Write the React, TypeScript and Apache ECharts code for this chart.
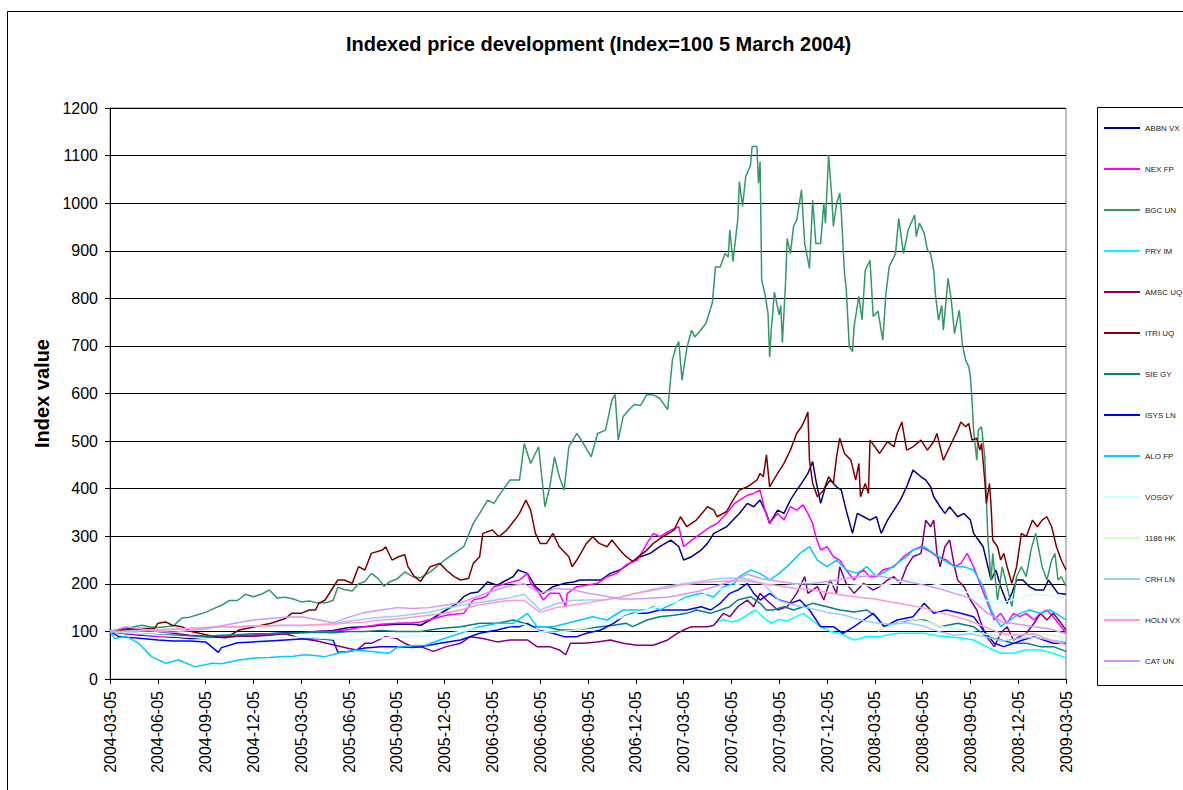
import React, { useEffect, useRef } from 'react';
import * as echarts from 'echarts';

// x values are months elapsed since 2004-03-05
const TICK_LABELS = [
  '2004-03-05', '2004-06-05', '2004-09-05', '2004-12-05',
  '2005-03-05', '2005-06-05', '2005-09-05', '2005-12-05',
  '2006-03-05', '2006-06-05', '2006-09-05', '2006-12-05',
  '2007-03-05', '2007-06-05', '2007-09-05', '2007-12-05',
  '2008-03-05', '2008-06-05', '2008-09-05', '2008-12-05',
  '2009-03-05',
];

const SERIES_NAMES = ['ABBN VX', 'NEX FP', 'BGC UN', 'PRY IM', 'AMSC UQ', 'ITRI UQ', 'SIE GY', 'ISYS LN', 'ALO FP', 'VOSGY', '1186 HK', 'CRH LN', 'HOLN VX', 'CAT UN'];
const SERIES_COLORS = ['#000080', '#FF00FF', '#339966', '#00FFFF', '#800080', '#800000', '#008080', '#0000FF', '#00CCFF', '#CCFFFF', '#CCFFCC', '#99CCFF', '#FF99CC', '#CC99FF'];

const ABBN_VX = [[0,100],[1,95],[2,92],[3,90],[4,88],[5,85],[6,85],[7,88],[8,90],[9,92],[10,95],[11,97],[12,98],[13,100],[14,102],[15,108],[16,110],[17,113],[18,115],[19,115],[19.5,113],[20.1,124],[21.1,145],[21.8,159],[22.2,173],[22.6,180],[23.1,183],[23.7,204],[24.3,197],[24.9,208],[25.3,215],[25.6,229],[26.2,222],[26.7,194],[27.2,180],[27.8,194],[28.5,201],[29.1,204],[29.5,208],[30.2,208],[30.8,208],[31.4,222],[32,229],[32.6,243],[33.3,257],[33.9,264],[34.5,278],[35.2,292],[35.7,278],[36,250],[36.5,257],[37.1,271],[37.5,285],[37.9,306],[38.3,313],[38.7,320],[39.1,334],[39.5,348],[40,369],[40.4,362],[40.8,376],[41.2,348],[41.4,327],[41.9,355],[42.3,348],[42.7,376],[43.1,397],[43.4,411],[43.8,432],[44.1,457],[44.3,418],[44.6,369],[44.9,404],[45.2,418],[45.6,404],[45.9,397],[46.2,355],[46.6,306],[46.9,348],[47.3,341],[47.7,334],[48.1,341],[48.4,306],[48.8,334],[49.2,355],[49.6,376],[50,404],[50.4,439],[50.9,425],[51.2,418],[51.5,404],[51.7,383],[52.1,362],[52.4,348],[52.7,362],[53.2,341],[53.6,348],[54,334],[54.2,306],[54.5,292],[54.8,278],[55.1,236],[55.3,208],[55.6,229],[55.9,194],[56.3,159],[56.6,180],[56.9,208],[57.3,208],[57.7,194],[58.1,187],[58.6,187],[58.9,208],[59.2,194],[59.5,180],[60,178]];

const NEX_FP = [[0,100],[1,96],[2,93],[3,90],[4,92],[5,90],[6,88],[7,88],[8,90],[9,92],[10,94],[11,95],[12,97],[13,100],[14,100],[15,104],[16,110],[17,115],[18,117],[19,118],[19.5,120],[21.1,134],[22.2,138],[22.8,166],[23.6,173],[24.1,194],[24.9,201],[25.7,208],[26.2,222],[26.4,201],[26.8,187],[27.2,166],[27.6,180],[28.2,180],[28.6,152],[28.7,180],[29.3,194],[29.9,197],[30.6,201],[31.2,215],[31.8,222],[32.4,240],[33.1,250],[33.7,285],[34.1,306],[34.5,299],[35.2,313],[35.7,320],[36,278],[36.5,292],[37.1,306],[37.7,320],[38.1,327],[38.7,348],[39.2,369],[39.5,376],[40,386],[40.4,390],[40.8,397],[41.1,355],[41.4,327],[41.9,348],[42.3,334],[42.7,362],[43.1,355],[43.5,366],[43.8,348],[44.1,327],[44.3,299],[44.6,271],[45,278],[45.4,257],[45.8,250],[46.2,229],[46.7,208],[47,222],[47.3,229],[47.7,215],[48.1,215],[48.5,229],[49.2,236],[49.8,257],[50.4,271],[50.9,278],[51.5,267],[51.9,257],[52.5,250],[53,236],[53.4,243],[53.8,264],[54.2,236],[54.6,201],[55,166],[55.5,124],[55.9,138],[56.3,117],[56.7,138],[57.1,131],[57.5,138],[58,124],[58.4,138],[58.8,145],[59.2,131],[59.7,110],[60,96]];

const BGC_UN = [[0,100],[0.5,103],[1,105],[1.5,110],[2,113],[2.5,110],[3,108],[3.5,110],[4,112],[4.5,128],[5,130],[5.5,135],[6,140],[6.5,148],[7,155],[7.5,165],[8,165],[8.5,178],[9,173],[9.5,178],[10,187],[10.5,170],[11,172],[11.5,168],[12,162],[12.5,164],[13,160],[13.5,160],[14,165],[14.3,193],[14.7,188],[15.2,185],[15.6,200],[16,205],[16.4,222],[16.8,212],[17.2,195],[17.6,205],[18,210],[18.5,225],[19,215],[19.5,213],[20.1,225],[20.5,236],[21,250],[21.6,264],[22.2,278],[22.8,327],[23.2,348],[23.7,376],[24.1,369],[24.5,390],[25.1,418],[25.7,418],[26,495],[26.4,453],[26.9,488],[27.3,362],[27.6,404],[27.9,467],[28.2,425],[28.5,397],[28.8,488],[29.3,516],[29.7,495],[30.2,467],[30.6,516],[31.1,523],[31.5,586],[31.7,598],[31.9,502],[32.2,551],[32.5,563],[32.9,577],[33.3,575],[33.7,598],[34.1,597],[34.5,590],[35,566],[35.3,671],[35.5,695],[35.7,709],[35.9,628],[36.2,695],[36.5,733],[36.7,719],[36.9,726],[37.4,747],[37.8,790],[38,866],[38.3,866],[38.6,894],[38.8,887],[38.9,944],[39.1,877],[39.3,937],[39.4,965],[39.5,1045],[39.7,993],[39.9,1056],[40.2,1080],[40.3,1119],[40.6,1119],[40.7,1042],[40.8,1087],[40.9,838],[41.1,810],[41.3,768],[41.4,677],[41.5,733],[41.7,813],[42,765],[42.1,785],[42.2,707],[42.4,834],[42.5,926],[42.7,894],[42.9,951],[43.1,965],[43.4,1028],[43.6,915],[43.9,863],[44.1,1006],[44.3,915],[44.6,915],[44.8,1000],[44.9,958],[45.1,1101],[45.3,1013],[45.4,951],[45.6,1000],[45.8,1021],[45.9,979],[46.1,852],[46.2,824],[46.4,698],[46.6,688],[46.7,741],[47,804],[47.2,755],[47.4,859],[47.7,880],[47.9,762],[48.2,773],[48.5,712],[48.7,810],[48.9,866],[49.3,894],[49.5,968],[49.8,894],[50.1,944],[50.5,975],[50.6,930],[50.8,958],[51.1,937],[51.3,902],[51.5,894],[51.7,859],[51.8,810],[52,754],[52.2,785],[52.3,733],[52.6,842],[52.8,796],[53,726],[53.3,775],[53.5,702],[53.7,670],[53.9,656],[54,635],[54.1,586],[54.2,523],[54.4,460],[54.5,523],[54.7,530],[54.9,467],[55,383],[55.1,292],[55.3,208],[55.4,264],[55.7,166],[56,236],[56.3,194],[56.6,152],[56.9,215],[57.2,236],[57.5,215],[57.8,271],[58.1,306],[58.3,271],[58.5,236],[58.8,208],[59.1,250],[59.3,264],[59.5,208],[59.7,215],[60,195]];

const PRY_IM = [[38,118],[38.5,125],[39,120],[39.5,124],[40,135],[40.5,145],[41,130],[41.5,117],[42,125],[42.5,122],[43,130],[43.5,138],[44,125],[44.6,110],[45.2,100],[45.8,96],[46.7,82],[47.5,89],[48.3,89],[49,94],[49.6,96],[50.4,96],[51.1,96],[51.9,91],[52.7,89],[53.4,86],[54.2,82],[55,68],[55.9,54],[56.7,54],[57.5,61],[58.4,61],[59.2,54],[60,44]];

const AMSC_UQ = [[0,100],[1,108],[2,104],[3,100],[4,96],[5,92],[6,90],[7,88],[8,90],[9,90],[10,92],[11,95],[12,85],[13,80],[14,72],[15,64],[15.5,61],[16,75],[16.4,75],[17.3,89],[18,85],[18.5,75],[19,68],[19.5,68],[20.3,58],[21.1,68],[22,75],[22.6,89],[23.4,85],[24.3,78],[25.1,82],[26.2,82],[26.8,68],[27.6,68],[28.2,61],[28.6,51],[28.9,75],[29.7,75],[30.6,78],[31.4,82],[32.2,75],[33.1,71],[34.1,71],[35,82],[35.6,96],[36,103],[36.5,110],[36.9,110],[37.5,110],[37.9,113],[38.5,138],[38.9,131],[39.4,152],[40,166],[40.4,152],[40.8,180],[41.2,166],[41.9,145],[42.5,152],[43.1,180],[43.6,215],[43.8,180],[44.4,194],[44.8,166],[45.2,208],[45.6,180],[45.8,236],[46.2,201],[46.7,180],[47.3,201],[47.9,187],[48.3,194],[48.8,208],[49.2,215],[49.6,201],[50,236],[50.4,257],[50.9,264],[51.2,334],[51.5,320],[51.7,334],[51.9,264],[52.1,236],[52.4,278],[52.7,292],[53,236],[53.2,208],[53.6,194],[54,166],[54.4,145],[54.6,124],[55,89],[55.5,68],[55.9,96],[56.3,110],[56.7,82],[57.1,89],[57.5,96],[58,117],[58.4,138],[58.8,124],[59.2,138],[59.7,117],[60,103]];

const ITRI_UQ = [[0,100],[0.9,103],[1.8,106],[2.8,106],[3,117],[3.5,120],[3.9,113],[4.5,110],[5.1,100],[6.6,89],[7.2,85],[8.1,103],[9.1,110],[10.1,117],[11,127],[11.4,138],[12,138],[12.5,145],[12.9,145],[13.1,159],[13.5,166],[13.9,187],[14.3,208],[14.7,208],[15.2,201],[15.6,236],[16,229],[16.4,264],[17.1,271],[17.3,278],[17.7,250],[18.1,257],[18.5,261],[18.7,236],[19.1,215],[19.5,205],[20.1,236],[20.7,243],[21.1,229],[21.6,215],[22,208],[22.5,211],[22.8,243],[23.2,257],[23.4,306],[24,313],[24.4,299],[24.9,313],[25.4,334],[25.7,348],[26.1,376],[26.4,355],[26.7,306],[27,285],[27.4,285],[27.8,306],[28.2,278],[28.8,257],[29,236],[29.3,250],[29.9,285],[30.3,299],[30.7,285],[31.2,278],[31.5,292],[32,271],[32.4,257],[32.8,247],[33.3,261],[33.7,271],[34.1,285],[34.7,299],[35.4,313],[35.8,341],[36.2,320],[36.8,334],[37.5,362],[37.9,355],[38.1,341],[38.7,352],[39.1,376],[39.5,397],[40,404],[40.6,418],[40.8,432],[41,425],[41.2,471],[41.4,404],[41.9,432],[42.3,453],[42.7,481],[43.1,516],[43.4,530],[43.6,544],[43.8,561],[43.9,460],[44.1,411],[44.4,383],[44.8,397],[45.1,425],[45.4,411],[45.6,467],[45.8,506],[46.1,474],[46.5,460],[46.8,418],[47,453],[47.1,383],[47.4,411],[47.6,390],[47.7,502],[48,488],[48.3,474],[48.8,499],[49.2,488],[49.4,516],[49.7,540],[50,481],[50.4,488],[50.9,502],[51.3,481],[51.7,499],[51.9,516],[52.3,460],[52.7,488],[53.2,523],[53.4,540],[53.7,530],[53.9,537],[54.1,502],[54.4,506],[54.6,481],[54.7,495],[54.9,418],[55,369],[55.2,411],[55.3,362],[55.4,292],[55.7,278],[55.9,250],[56.1,264],[56.3,236],[56.6,201],[56.9,236],[57.2,306],[57.5,299],[57.9,334],[58.2,320],[58.5,334],[58.8,341],[59.1,320],[59.4,278],[59.7,250],[60,229]];

const SIE_GY = [[0,100],[1,97],[2,95],[3,93],[4,92],[5,91],[6,90],[7,92],[8,93],[9,95],[10,95],[11,96],[12,97],[13,98],[14,97],[15,100],[16,100],[17,102],[18,100],[19,100],[19.5,100],[20.7,106],[22,110],[23.2,117],[24.3,117],[25.3,124],[26,117],[26.6,110],[27.4,110],[28.2,103],[29.1,103],[29.9,106],[30.8,110],[31.6,113],[32.4,117],[32.8,110],[33.7,124],[34.5,131],[35.4,134],[36.2,138],[36.8,145],[37.7,138],[38.3,145],[38.9,152],[39.4,166],[40.2,173],[40.8,159],[41.2,145],[41.6,145],[42.3,152],[42.9,145],[43.5,152],[44.1,159],[45,152],[45.8,145],[46.7,141],[47.5,145],[48.1,131],[48.6,110],[49.4,117],[50.4,124],[51.1,124],[52.1,110],[53.2,117],[54.2,110],[55,89],[55.9,82],[56.7,75],[57.5,75],[58.4,68],[59.2,68],[60,58]];

const ISYS_LN = [[0,100],[0.5,90],[1,88],[2,85],[3,82],[4,80],[5,80],[6,78],[6.8,56],[7,66],[8,76],[9,78],[10,80],[11,82],[12,84],[13,85],[14,82],[14.3,56],[15,58],[16,65],[17,68],[18,68],[19,66],[19.5,68],[20.7,75],[22,82],[23.2,96],[24.3,103],[25.1,110],[25.7,110],[26.2,117],[26.8,103],[27.8,96],[28.5,89],[29.3,89],[29.9,96],[30.8,103],[31.6,117],[32.2,131],[32.8,138],[33.7,138],[34.5,145],[35.4,145],[36.2,145],[37.1,152],[37.7,145],[38.3,159],[38.9,180],[39.4,187],[40,201],[40.4,180],[40.8,166],[41.4,180],[42,166],[42.7,159],[43.3,166],[43.9,145],[44.6,110],[45.4,110],[46,96],[46.7,110],[47.3,124],[47.9,138],[48.6,110],[49.4,124],[50.4,131],[51.1,159],[51.7,138],[52.5,145],[53.4,138],[54.2,131],[54.8,103],[55.5,75],[56.1,68],[56.7,75],[57.3,82],[58,89],[58.6,82],[59.2,75],[60,75]];

const ALO_FP = [[0,100],[0.3,85],[1,90],[1.8,75],[2.6,47],[3.5,33],[4.3,40],[5.3,26],[6,30],[6.4,33],[7,32],[8.1,40],[9.1,44],[10,45],[10.6,47],[11.5,48],[12.2,51],[13,49],[13.5,47],[14.3,54],[15.4,61],[16.4,58],[17.5,54],[18.1,68],[19,70],[19.8,71],[20.7,82],[22,96],[23.2,110],[24.3,117],[25.3,117],[26.2,138],[26.8,110],[27.8,110],[28.7,117],[29.5,124],[30.3,131],[31.2,124],[32.2,145],[32.8,145],[33.7,145],[34.1,152],[34.5,145],[35.4,159],[36.2,173],[37.1,180],[37.9,173],[38.5,194],[39.2,201],[39.5,215],[40.2,229],[40.8,222],[41.4,208],[42,222],[42.7,243],[43.3,264],[43.9,278],[44.4,250],[45,236],[45.6,250],[46.2,229],[46.9,222],[47.5,236],[48.1,215],[48.8,229],[49.4,243],[50,257],[50.4,271],[51.1,278],[51.7,264],[52.3,250],[53,236],[53.6,236],[54.2,229],[54.8,194],[55.3,145],[55.9,110],[56.5,124],[57.1,138],[57.7,145],[58.4,138],[59,145],[59.7,131],[60,124]];

const VOS_GY = [[0,100],[1,97],[2,95],[3,92],[4,90],[5,88],[6,85],[7,84],[8,82],[9,84],[10,86],[11,88],[12,88],[13,86],[14,84],[15,82],[16,84],[17,86],[18,88],[19,90],[20,92],[21,95],[22,100],[23,105],[24,110],[25,112],[26,115],[27,100],[28,98],[29,102],[30,108],[31,118],[32,128],[33,138],[34,148],[35,158],[36,165],[37,175],[38,185],[39,195],[40,205],[41,200],[42,195],[43,198],[44,205],[45,200],[46,195],[47,198],[48,195],[49,200],[50,208],[51,205],[52,198],[53,190],[54,180],[55,165],[56,160],[57,170],[58,178],[59,175],[60,170]];

const HK_1186 = [[48.2,100],[48.6,108],[49,112],[49.5,118],[50,120],[50.5,125],[51,122],[51.5,118],[52,112],[52.5,108],[53,106],[53.5,103],[54,100],[55,94],[56,90],[57,93],[58,96],[59,92],[60,88]];

const CRH_LN = [[0,100],[1,100],[2,102],[3,104],[4,105],[5,106],[6,108],[7,110],[8,110],[9,112],[10,112],[11,113],[12,112],[13,114],[14,116],[15,122],[16,126],[17,130],[18,132],[19,136],[20,140],[21,148],[22,155],[23,160],[24,165],[25,170],[26,178],[27,145],[28,158],[29,165],[30,166],[31,166],[32,172],[33,180],[34,188],[35,195],[36,200],[37,205],[38,210],[39,212],[40,210],[41,200],[42,165],[43,155],[44,148],[45,140],[46,135],[47,125],[48,118],[49,115],[50,118],[51,112],[52,100],[53,92],[54,95],[55,88],[56,80],[57,85],[58,88],[59,82],[60,78]];

const HOLN_VX = [[0,100],[1,100],[2,101],[3,102],[4,104],[5,106],[6,108],[7,110],[8,110],[9,111],[10,112],[11,113],[12,113],[13,114],[14,115],[15,118],[16,120],[17,124],[18,126],[19,130],[20,134],[21,138],[22,145],[23,155],[24,160],[25,165],[26,165],[27,140],[28,150],[29,155],[30,160],[31,166],[32,172],[33,180],[34,186],[35,192],[36,198],[37,202],[38,205],[39,206],[40,206],[41,200],[42,196],[43,190],[44,188],[45,182],[46,176],[47,172],[48,168],[49,162],[50,156],[51,150],[52,140],[53,132],[54,122],[55,108],[56,95],[57,92],[58,95],[59,82],[60,72]];

const CAT_UN = [[0,100],[1,110],[2,105],[3,100],[4,98],[5,102],[6,105],[7,112],[8,118],[9,124],[10,127],[11,130],[12,131],[13,125],[14,118],[15,130],[16,140],[17,145],[18,150],[19,148],[20,150],[21,155],[22,160],[23,173],[24,185],[25,195],[26,200],[27,180],[28,190],[29,188],[30,180],[31,175],[32,168],[33,168],[34,170],[35,172],[36,178],[37,185],[38,195],[39,205],[40,220],[41,210],[42,205],[43,200],[44,200],[45,205],[46,210],[47,215],[48,218],[49,212],[50,205],[51,198],[52,190],[53,180],[54,170],[55,140],[56,120],[57,115],[58,110],[59,105],[60,95]];

const SERIES_DATA = [ABBN_VX, NEX_FP, BGC_UN, PRY_IM, AMSC_UQ, ITRI_UQ, SIE_GY, ISYS_LN, ALO_FP, VOS_GY, HK_1186, CRH_LN, HOLN_VX, CAT_UN];

const FONT = '"Liberation Sans", Arial, sans-serif';

export default function App() {
  const ref = useRef<HTMLDivElement>(null);
  useEffect(() => {
    if (!ref.current) return;
    const chart = echarts.init(ref.current, undefined, { renderer: 'svg' });
    chart.setOption({
      animation: false,
      backgroundColor: '#ffffff',
      textStyle: { fontFamily: FONT },
      title: {
        text: 'Indexed price development (Index=100 5 March 2004)',
        left: 341,
        top: 29,
        textStyle: { fontFamily: FONT, fontSize: 20, fontWeight: 'bold', color: '#000' },
      },
      grid: {
        left: 110, right: 117, top: 108, bottom: 111,
        show: true, borderColor: '#808080', borderWidth: 1,
      },
      legend: {
        orient: 'vertical',
        left: 1098,
        top: 119,
        itemWidth: 36,
        itemHeight: 8,
        itemGap: 33,
        data: SERIES_NAMES,
        itemStyle: { opacity: 0 },
        textStyle: { fontFamily: FONT, fontSize: 8, color: '#222' },
      },
      graphic: [
        { type: 'rect', shape: { x: 7.5, y: 11.5, width: 1300, height: 900 }, style: { fill: 'none', stroke: '#000', lineWidth: 1 }, silent: true, z: -10 },
        { type: 'rect', shape: { x: 1097.5, y: 107.5, width: 200, height: 578 }, style: { fill: 'none', stroke: '#000', lineWidth: 1 }, silent: true, z: -10 },
      ],
      xAxis: {
        type: 'value',
        min: 0,
        max: 60,
        interval: 3,
        axisLine: { show: true, onZero: false, lineStyle: { color: '#000', width: 1 } },
        axisTick: { show: true, length: 5, lineStyle: { color: '#000' } },
        splitLine: { show: false },
        axisLabel: {
          rotate: 90,
          margin: 12,
          fontSize: 16,
          color: '#000',
          fontFamily: FONT,
          formatter: (v: number) => TICK_LABELS[Math.round(v / 3)] ?? '',
        },
      },
      yAxis: {
        type: 'value',
        min: 0,
        max: 1200,
        interval: 100,
        name: 'Index value',
        nameLocation: 'middle',
        nameRotate: 90,
        nameGap: 54,
        nameTextStyle: { fontFamily: FONT, fontSize: 20, fontWeight: 'bold', color: '#000' },
        axisLine: { show: true, lineStyle: { color: '#000', width: 1 } },
        axisTick: { show: true, length: 5, lineStyle: { color: '#000' } },
        splitLine: { show: true, lineStyle: { color: '#000', width: 1 } },
        axisLabel: { margin: 12, fontSize: 16, color: '#000', fontFamily: FONT, formatter: (v: number) => String(v) },
      },
      series: SERIES_NAMES.map((name, i) => ({
        name,
        type: 'line',
        data: SERIES_DATA[i],
        symbol: 'none',
        showSymbol: false,
        color: SERIES_COLORS[i],
        lineStyle: { color: SERIES_COLORS[i], width: 1.5 },
        z: 2,
      })),
    });
    return () => chart.dispose();
  }, []);
  return (
    <div
      ref={ref}
      style={{ position: 'fixed', left: 0, top: 0, width: 1183, height: 790, background: '#fff' }}
    />
  );
}
